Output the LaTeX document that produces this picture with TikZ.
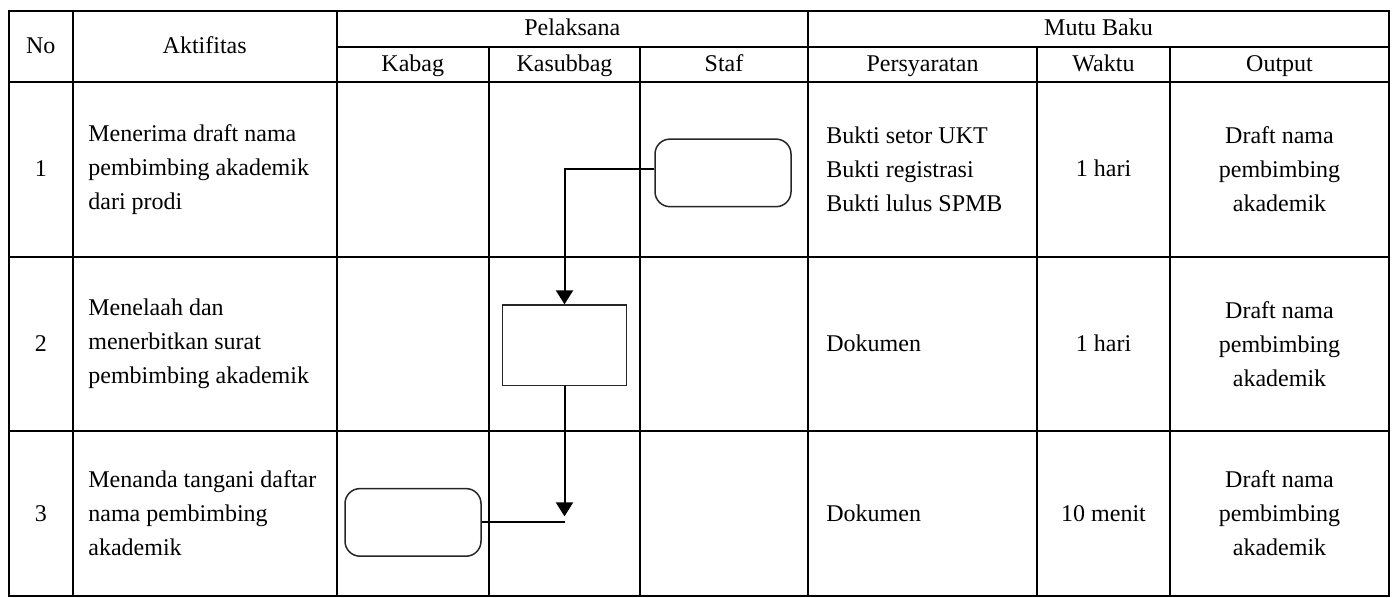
\documentclass[tikz,border=0pt]{standalone}
\usepackage{fontspec}
\setmainfont{Liberation Serif}
\usetikzlibrary{arrows.meta}
\begin{document}
\begin{tikzpicture}[x=0.5pt,y=-0.5pt,
  grid/.style={line width=1pt},
  txt/.style={font=\fontsize{12}{17}\selectfont, inner sep=0pt},
  lefttxt/.style={txt, anchor=west, align=left},
  ctxt/.style={txt, align=center},
  one/.style={txt, anchor=base},
  onel/.style={txt, anchor=base west},
  term/.style={draw=black!85, line width=0.75pt, rounded corners=7.5pt,
    minimum width=68pt, minimum height=33.8pt, inner sep=0pt},
  proc/.style={draw=black!85, line width=0.75pt,
    minimum width=62pt, minimum height=40.3pt, inner sep=0pt},
  flow/.style={line width=1pt},
  tip/.style={-{Triangle[length=7pt,width=8.5pt]}},
]
\useasboundingbox (0,0) rectangle (1396,598);

% table frame and rules
\draw[grid] (9,11) rectangle (1389,596);
\draw[grid] (9,82.3) -- (1389,82.3);
\draw[grid] (9,256.7) -- (1389,256.7);
\draw[grid] (9,430.7) -- (1389,430.7);
\draw[grid] (336.7,46.7) -- (1389,46.7);
\foreach \x in {72.7,336.7,808} \draw[grid] (\x,11) -- (\x,596);
\foreach \x in {489,640,1037,1170} \draw[grid] (\x,46.7) -- (\x,596);

% header (anchored on the baseline)
\node[one] (hNo)  at (40.8,54) {No};
\node[one] (hAkt) at (204.7,54) {Aktifitas};
\node[one] (hPel) at (572.3,36) {Pelaksana};
\node[one] (hMut) at (1098.5,36) {Mutu Baku};
\node[one] (hKab) at (412.8,71.5) {Kabag};
\node[one] (hKsb) at (564.5,71.5) {Kasubbag};
\node[one] (hSta) at (724,71.5) {Staf};
\node[one] (hPer) at (922.5,71.5) {Persyaratan};
\node[one] (hWak) at (1103.5,71.5) {Waktu};
\node[one] (hOut) at (1279.5,71.5) {Output};

% row 1
\node[one] (n1) at (40.8,177) {1};
\node[lefttxt] (a1) at (88,169.5) {Menerima draft nama\\pembimbing akademik\\dari prodi};
\node[lefttxt] (p1) at (826,169.5) {Bukti setor UKT\\Bukti registrasi\\Bukti lulus SPMB};
\node[one] (w1) at (1103.5,177) {1 hari};
\node[ctxt] (o1) at (1279.5,169.5) {Draft nama\\pembimbing\\akademik};

% row 2
\node[one] (n2) at (40.8,351) {2};
\node[lefttxt] (a2) at (88,343.7) {Menelaah dan\\menerbitkan surat\\pembimbing akademik};
\node[onel] (p2) at (826,351) {Dokumen};
\node[one] (w2) at (1103.5,351) {1 hari};
\node[ctxt] (o2) at (1279.5,343.7) {Draft nama\\pembimbing\\akademik};

% row 3
\node[one] (n3) at (40.8,521) {3};
\node[lefttxt] (a3) at (88,513.5) {Menanda tangani daftar\\nama pembimbing\\akademik};
\node[onel] (p3) at (826,521) {Dokumen};
\node[one] (w3) at (1103.5,521) {10 menit};
\node[ctxt] (o3) at (1279.5,513.5) {Draft nama\\pembimbing\\akademik};

% flow symbols
\node[term] (staf)  at (723,172.9) {};
\node[proc] (ksb)   at (564.5,345.4) {};
\node[term] (kabag) at (413,522.4) {};
\coordinate (meet) at (564.5,522.4);

% connectors
\draw[flow,tip] ([yshift=2pt]staf.west) -| (ksb.north);
\draw[flow] (kabag.east) -- (meet);
\draw[flow,tip,shorten >=3pt] (ksb.south) -- (meet);
\end{tikzpicture}
\end{document}
